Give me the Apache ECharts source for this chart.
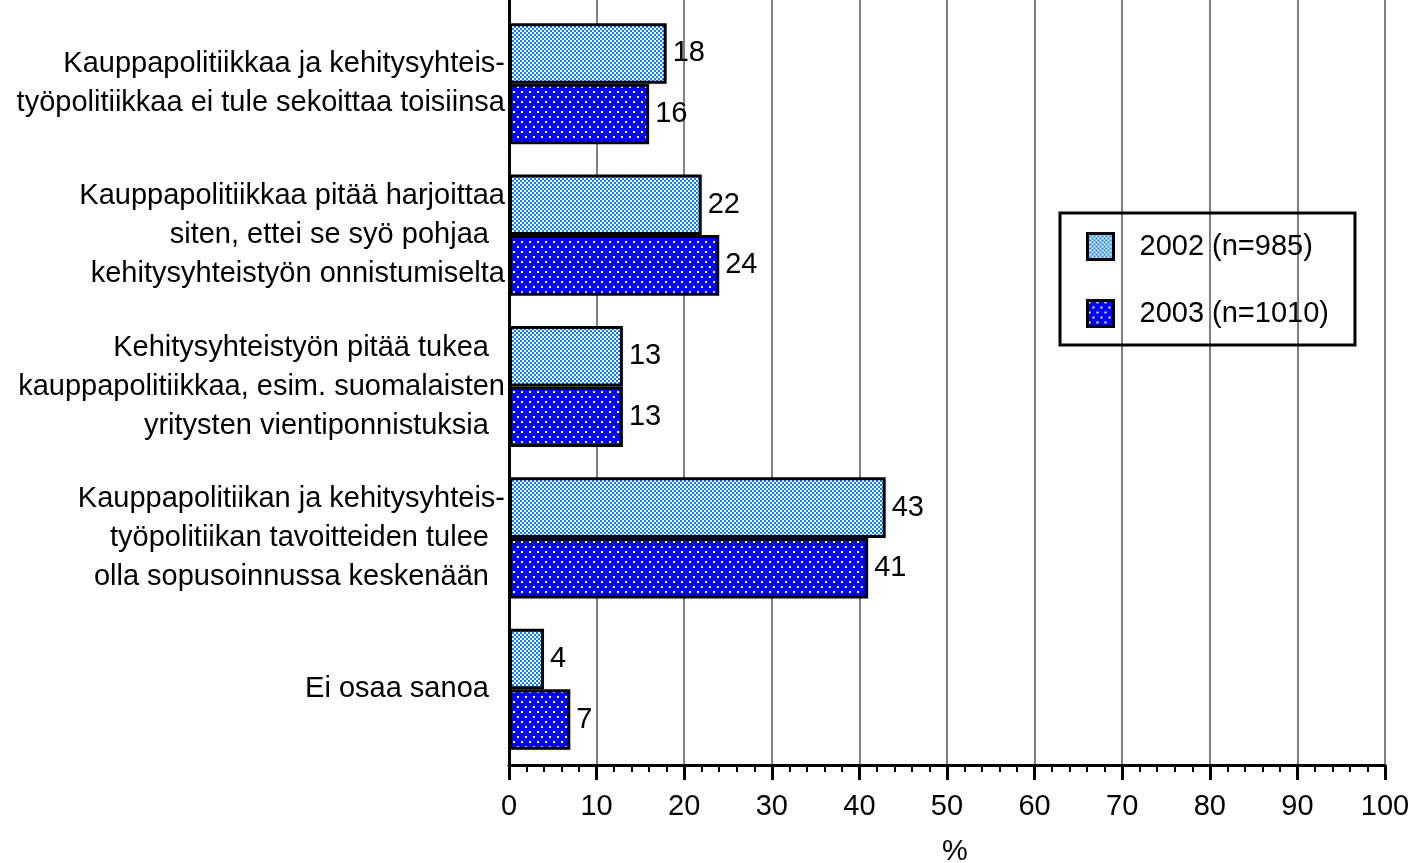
<!DOCTYPE html>
<html>
<head>
<meta charset="utf-8">
<script src="https://cdn.jsdelivr.net/npm/echarts@6/dist/echarts.min.js"></script>
<style>
html,body{margin:0;padding:0;background:#fff;}
#chart{width:1427px;height:863px;}
</style>
</head>
<body>
<div id="chart"></div>
<script>
const categories = [
  "Kauppapolitiikkaa ja kehitysyhteis-\ntyöpolitiikkaa ei tule sekoittaa toisiinsa",
  "Kauppapolitiikkaa pitää harjoittaa\nsiten, ettei se syö pohjaa\u00a0\u00a0\nkehitysyhteistyön onnistumiselta",
  "Kehitysyhteistyön pitää tukea\u00a0\u00a0\nkauppapolitiikkaa, esim. suomalaisten\nyritysten vientiponnistuksia\u00a0\u00a0",
  "Kauppapolitiikan ja kehitysyhteis-\ntyöpolitiikan tavoitteiden tulee\u00a0\u00a0\nolla sopusoinnussa keskenään\u00a0\u00a0",
  "Ei osaa sanoa\u00a0\u00a0"
];
const seriesNames = ["2002 (n=985)", "2003 (n=1010)"];
const values2002 = [18, 22, 13, 43, 4];
const values2003 = [16, 24, 13, 41, 7];
const xTicks = [0, 10, 20, 30, 40, 50, 60, 70, 80, 90, 100];

function checkerPattern() {
  const c = document.createElement('canvas');
  c.width = 4; c.height = 4;
  const g = c.getContext('2d');
  g.fillStyle = '#ffffff'; g.fillRect(0, 0, 4, 4);
  g.fillStyle = '#0a7cff';
  g.fillRect(0, 0, 2, 2); g.fillRect(2, 2, 2, 2);
  return c;
}
function dotPattern() {
  const c = document.createElement('canvas');
  c.width = 8; c.height = 10;
  const g = c.getContext('2d');
  g.fillStyle = '#0000ff'; g.fillRect(0, 0, 8, 10);
  g.fillStyle = '#ffffff';
  g.fillRect(1, 1, 2, 2); g.fillRect(5, 6, 2, 2);
  return c;
}

const FONT = 'Liberation Sans, Arial, sans-serif';
const chart = echarts.init(document.getElementById('chart'), null, {renderer: 'canvas'});

const labelCfg = {
  show: true, position: 'right', distance: 6,
  color: '#000', fontSize: 29, fontFamily: FONT
};

chart.setOption({
  animation: false,
  backgroundColor: '#fff',
  grid: [
    {left: 509, right: 42, top: 8, bottom: 98, containLabel: false, outerBoundsMode: 'none'},
    {left: 509, right: 42, top: 0, height: 8, containLabel: false, outerBoundsMode: 'none'}
  ],
  legend: {
    orient: 'vertical',
    left: 1060, top: 213,
    padding: [19, 26, 17, 26],
    itemWidth: 26, itemHeight: 26,
    itemGap: 38,
    borderColor: '#000', borderWidth: 3,
    icon: 'rect',
    textStyle: {fontSize: 29, color: '#000', fontFamily: FONT, padding: [0, 0, 0, 21]},
    itemStyle: {borderColor: '#000', borderWidth: 3},
    data: seriesNames
  },
  xAxis: [
    {
      type: 'value', gridIndex: 0, min: xTicks[0], max: xTicks[xTicks.length - 1], interval: 10,
      name: '%', nameLocation: 'middle', nameGap: 72,
      nameTextStyle: {fontSize: 29, color: '#000', fontFamily: FONT, padding: [0, 0, 0, 16]},
      axisLine: {show: true, lineStyle: {color: '#000', width: 3}},
      axisTick: {show: true, length: 15, lineStyle: {color: '#000', width: 3}},
      minorTick: {show: true, splitNumber: 5, length: 7, lineStyle: {color: '#000', width: 2}},
      axisLabel: {fontSize: 29, color: '#000', fontFamily: FONT, margin: 27},
      splitLine: {show: true, lineStyle: {color: '#808080', width: 2}}
    },
    {
      type: 'value', gridIndex: 1, min: 0, max: 100, interval: 10,
      axisLine: {show: false}, axisTick: {show: false}, axisLabel: {show: false},
      splitLine: {show: true, lineStyle: {color: '#808080', width: 2}}
    }
  ],
  yAxis: [
    {
      type: 'category', gridIndex: 0, inverse: true, data: categories,
      axisLine: {show: true, lineStyle: {color: '#000', width: 3}},
      axisTick: {show: false},
      axisLabel: {
        fontSize: 29, color: '#000', fontFamily: FONT, margin: 4,
        lineHeight: 39, align: 'right', padding: [15, 0, 0, 0]
      }
    },
    {
      type: 'category', gridIndex: 1, data: [''],
      axisLine: {show: true, lineStyle: {color: '#000', width: 3}},
      axisTick: {show: false}, axisLabel: {show: false}
    }
  ],
  series: [
    {
      name: seriesNames[0], type: 'bar', xAxisIndex: 0, yAxisIndex: 0,
      data: values2002, barGap: '0%', barCategoryGap: '20%',
      itemStyle: {color: {image: checkerPattern(), repeat: 'repeat'}, borderColor: '#000', borderWidth: 3},
      label: labelCfg
    },
    {
      name: seriesNames[1], type: 'bar', xAxisIndex: 0, yAxisIndex: 0,
      data: values2003, barGap: '0%', barCategoryGap: '20%',
      itemStyle: {color: {image: dotPattern(), repeat: 'repeat'}, borderColor: '#000', borderWidth: 3},
      label: labelCfg
    }
  ]
});
</script>
</body>
</html>
